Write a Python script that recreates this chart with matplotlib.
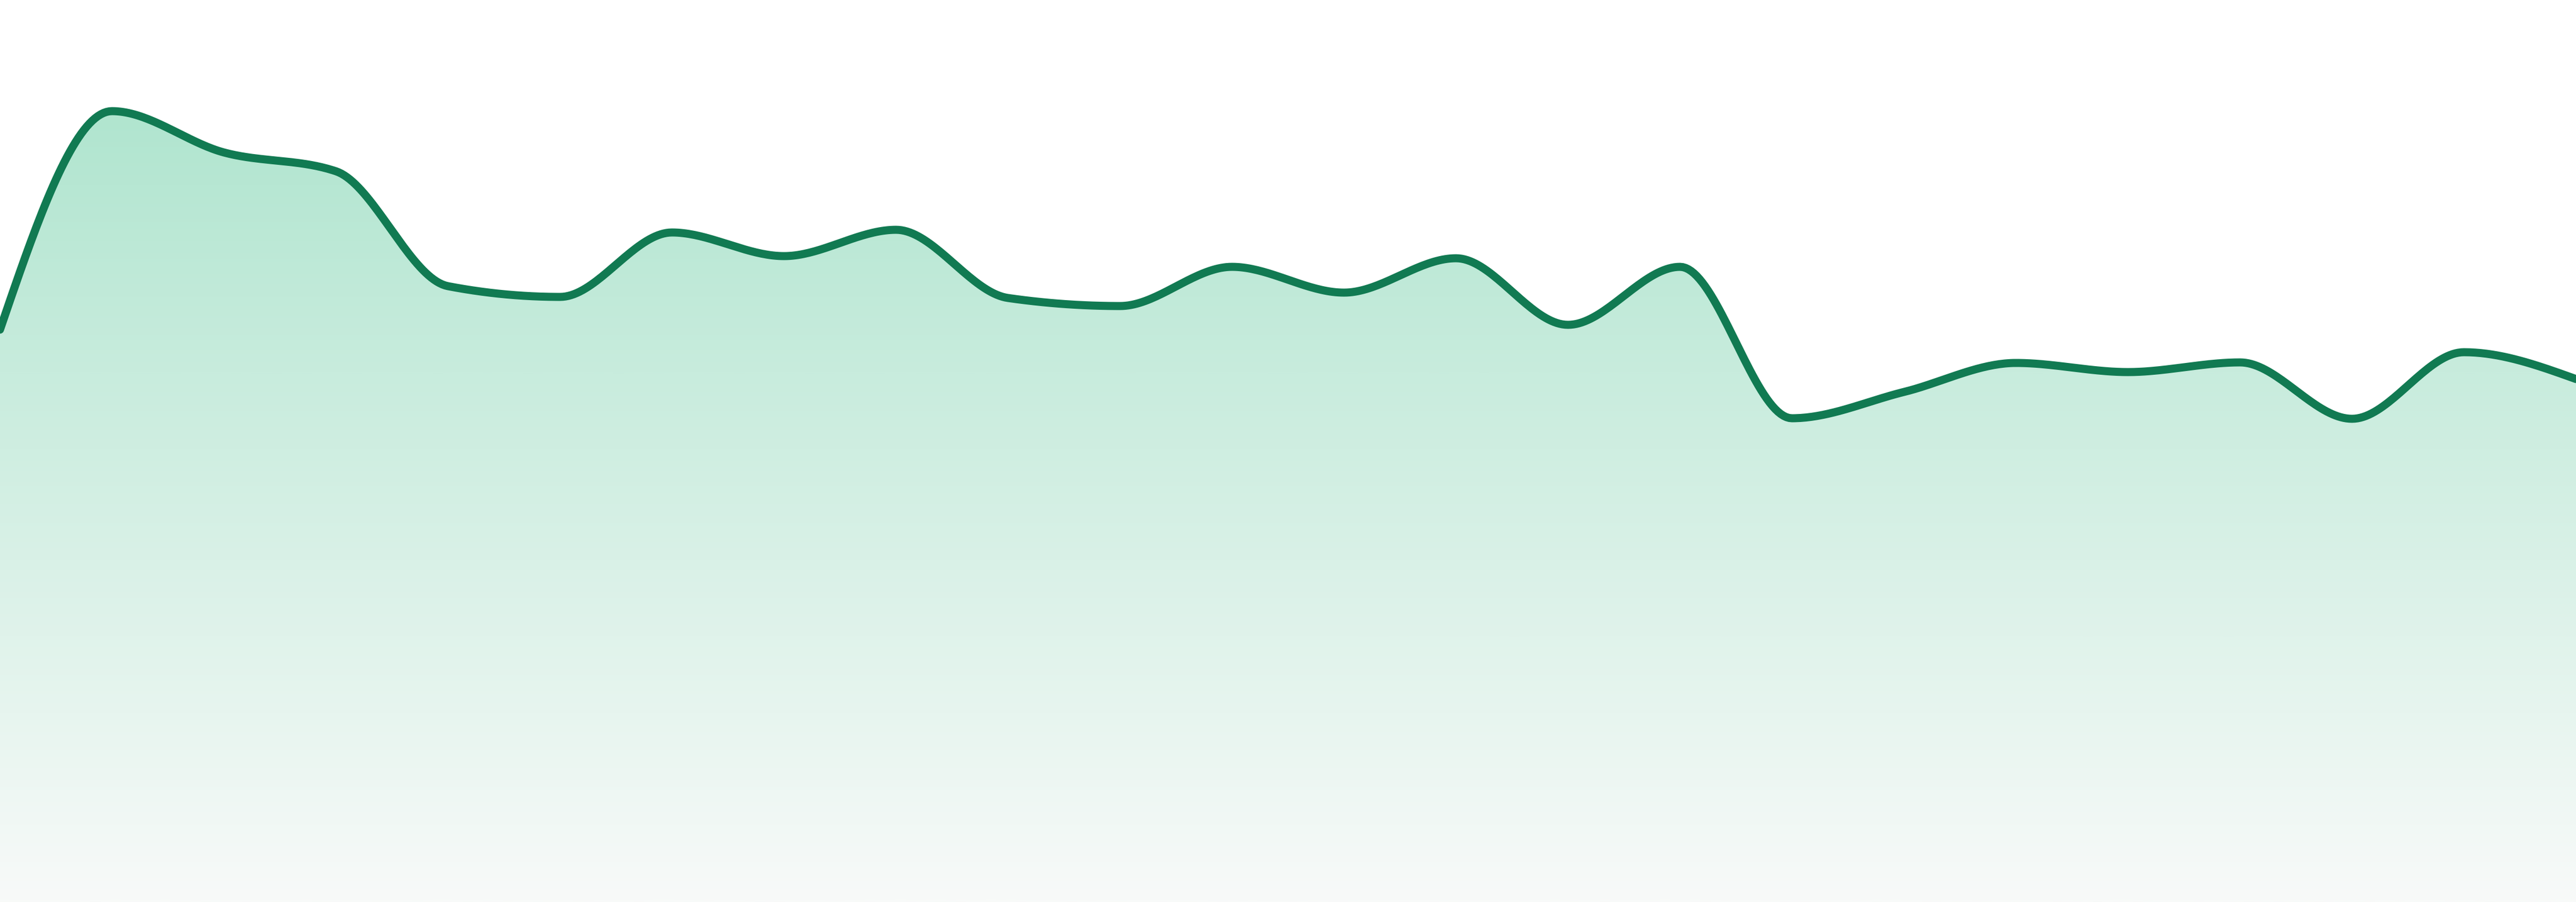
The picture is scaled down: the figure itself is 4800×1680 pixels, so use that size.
import numpy as np
import matplotlib
matplotlib.use("Agg")
import matplotlib.pyplot as plt
from matplotlib.colors import LinearSegmentedColormap

# values (24 evenly spaced samples)
idx = list(range(24))
values = [106.6, 147.3, 139.6, 136.1, 114.7, 112.7, 124.7, 120.3,
          125.2, 112.5, 111.0, 118.3, 113.5, 119.9, 107.5, 118.3,
          90.1, 95.0, 100.4, 98.7, 100.5, 90.0, 102.4, 97.4]

line_color = "#117a52"
fill_top = "#b0e5cf"
fill_bottom = "#f8faf9"


def monotone_x(x, y, n=40):
    # same slopes as d3.curveMonotoneX
    x = np.asarray(x, float)
    y = np.asarray(y, float)
    h = np.diff(x)
    s = np.diff(y) / h
    t = np.zeros_like(y)
    for i in range(1, len(y) - 1):
        p = (s[i - 1] * h[i] + s[i] * h[i - 1]) / (h[i - 1] + h[i])
        t[i] = (np.sign(s[i - 1]) + np.sign(s[i])) * min(abs(s[i - 1]), abs(s[i]), 0.5 * abs(p))
    t[0] = (3 * s[0] - t[1]) / 2
    t[-1] = (3 * s[-1] - t[-2]) / 2
    xs, ys = [], []
    for i in range(len(x) - 1):
        u = np.linspace(0, 1, n, endpoint=False)
        h00 = 2 * u**3 - 3 * u**2 + 1
        h10 = u**3 - 2 * u**2 + u
        h01 = -2 * u**3 + 3 * u**2
        h11 = u**3 - u**2
        xs.append(x[i] + u * h[i])
        ys.append(h00 * y[i] + h10 * h[i] * t[i] + h01 * y[i + 1] + h11 * h[i] * t[i + 1])
    xs.append([x[-1]])
    ys.append([y[-1]])
    return np.concatenate(xs), np.concatenate(ys)


xs, ys = monotone_x(idx, values)

fig = plt.figure(figsize=(16, 5.6), dpi=300)
ax = fig.add_axes([0, 0, 1, 1])
ax.set_xlim(0, 23)
ax.set_ylim(0, 168)
ax.axis("off")

poly = ax.fill_between(xs, ys, 0, facecolor="none", edgecolor="none")
cmap = LinearSegmentedColormap.from_list("g", [fill_bottom, fill_top])
grad = np.linspace(0, 1, 512).reshape(-1, 1)
img = ax.imshow(grad, cmap=cmap, aspect="auto", origin="lower",
                extent=[0, 23, 0, 148], zorder=1)
img.set_clip_path(poly.get_paths()[0], transform=ax.transData)

ax.plot(xs, ys, color=line_color, lw=3.6, solid_capstyle="round", zorder=3)

fig.savefig("out.png", dpi=300, facecolor="white")
